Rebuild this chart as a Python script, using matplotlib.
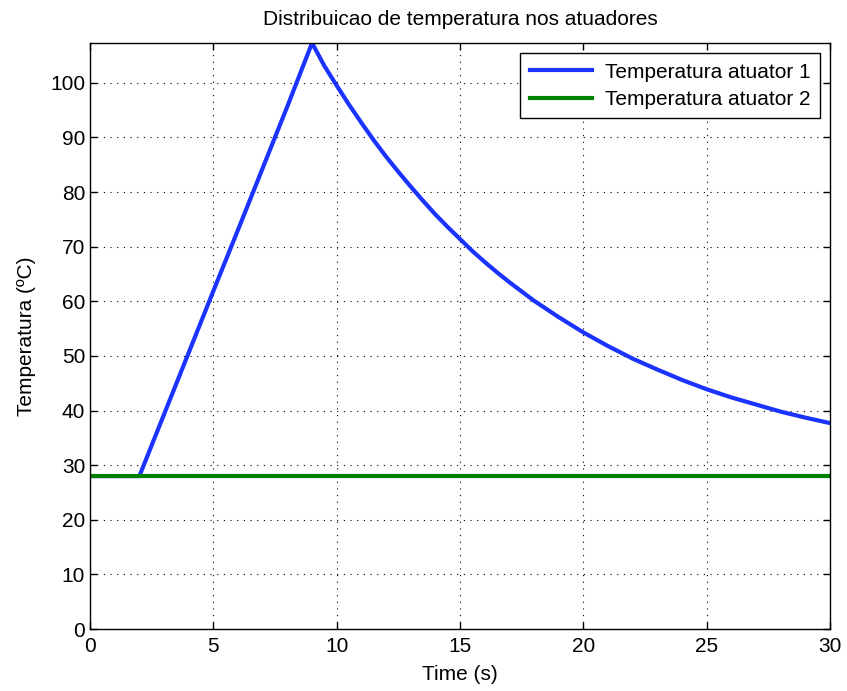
import matplotlib
matplotlib.use("Agg")
import matplotlib.pyplot as plt

plt.rcParams["font.family"] = ["Liberation Sans", "DejaVu Sans"]

# tempo (s) e temperaturas
tempo = [0, 1, 2, 3, 4, 5, 6, 7, 8, 9, 9.5, 10, 10.5, 11, 11.5, 12, 12.5,
         13, 13.5, 14, 14.5, 15, 15.5, 16, 16.5, 17, 17.5, 18, 19, 20, 21,
         22, 23, 24, 25, 26, 27, 28, 29, 30]
temp1 = [28, 28, 28, 39.3, 50.6, 61.9, 73.1, 84.4, 95.7, 107.3, 103.1, 99.5,
         96.0, 92.7, 89.5, 86.5, 83.7, 81.0, 78.4, 75.9, 73.6, 71.4, 69.2,
         67.2, 65.3, 63.5, 61.8, 60.1, 57.1, 54.3, 51.8, 49.5, 47.5, 45.6,
         43.9, 42.4, 41.1, 39.8, 38.7, 37.7]
temp2 = [28] * len(tempo)

fig = plt.figure(figsize=(8.47, 6.91), dpi=100)
ax = fig.add_axes([0.1063, 0.0897, 0.8737, 0.8481])

ax.plot(tempo, temp1, color="#1a33ff", lw=3, label="Temperatura atuator 1")
ax.plot(tempo, temp2, color="#008000", lw=3, label="Temperatura atuator 2")

ax.set_xlim(0, 30)
ax.set_ylim(0, 107.3)
ax.set_xticks(range(0, 31, 5))
ax.set_yticks(range(0, 101, 10))
ax.tick_params(direction="in", top=True, right=True, labelsize=15, length=5, width=1)
ax.tick_params(axis="x", pad=6)
ax.grid(True, linestyle=(0, (1, 5)), color="black", linewidth=0.8)
for s in ax.spines.values():
    s.set_linewidth(1)

ax.set_title("Distribuicao de temperatura nos atuadores", fontsize=15, pad=13)
ax.set_xlabel("Time (s)", fontsize=15, labelpad=6)
ax.set_ylabel("Temperatura (ºC)", fontsize=15, labelpad=10)

leg = ax.legend(loc="upper right", fontsize=15, fancybox=False, framealpha=1,
                edgecolor="black", borderaxespad=0.5, handlelength=3.0,
                labelspacing=0.4, borderpad=0.45, handletextpad=0.6)
leg.get_frame().set_linewidth(1)

fig.savefig("out.png", dpi=100)
